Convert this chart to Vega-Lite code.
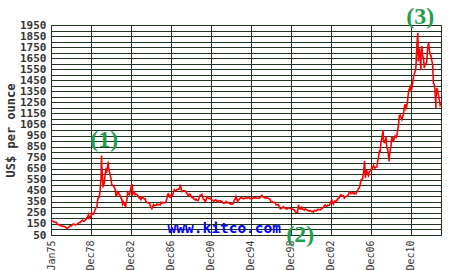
{
  "$schema": "https://vega.github.io/schema/vega-lite/v6.json",
  "width": 390,
  "height": 210,
  "autosize": {"type": "none"},
  "padding": {"left": 51, "top": 25, "right": 9, "bottom": 35},
  "background": "#ffffff",
  "config": {"view": {"stroke": "#1e361e", "strokeWidth": 1}},
  "datasets": {
    "gold": [
      {"d":"1975-01","p":185},{"d":"1975-02","p":180},{"d":"1975-03","p":178},{"d":"1975-04","p":170},{"d":"1975-05","p":167},{"d":"1975-06","p":164},{"d":"1975-07","p":166},{"d":"1975-08","p":161},{"d":"1975-09","p":144},{"d":"1975-10","p":143},{"d":"1975-11","p":142},{"d":"1975-12","p":139},
      {"d":"1976-01","p":131},{"d":"1976-02","p":131},{"d":"1976-03","p":132},{"d":"1976-04","p":128},{"d":"1976-05","p":126},{"d":"1976-06","p":125},{"d":"1976-07","p":118},{"d":"1976-08","p":106},{"d":"1976-09","p":114},{"d":"1976-10","p":117},{"d":"1976-11","p":131},{"d":"1976-12","p":134},
      {"d":"1977-01","p":132},{"d":"1977-02","p":136},{"d":"1977-03","p":148},{"d":"1977-04","p":149},{"d":"1977-05","p":147},{"d":"1977-06","p":141},{"d":"1977-07","p":143},{"d":"1977-08","p":145},{"d":"1977-09","p":150},{"d":"1977-10","p":159},{"d":"1977-11","p":162},{"d":"1977-12","p":161},
      {"d":"1978-01","p":173},{"d":"1978-02","p":179},{"d":"1978-03","p":184},{"d":"1978-04","p":175},{"d":"1978-05","p":177},{"d":"1978-06","p":183},{"d":"1978-07","p":188},{"d":"1978-08","p":206},{"d":"1978-09","p":212},{"d":"1978-10","p":235},{"d":"1978-11","p":200},{"d":"1978-12","p":207},
      {"d":"1979-01","p":227},{"d":"1979-02","p":248},{"d":"1979-03","p":242},{"d":"1979-04","p":239},{"d":"1979-05","p":257},{"d":"1979-06","p":279},{"d":"1979-07","p":295},{"d":"1979-08","p":301},{"d":"1979-09","p":370},{"d":"1979-10","p":392},{"d":"1979-11","p":392},{"d":"1979-12","p":456},
      {"d":"1980-01","p":560},{"d":"1980-01-21","p":770},{"d":"1980-02","p":670},{"d":"1980-03","p":560},{"d":"1980-03-18","p":480},{"d":"1980-04","p":515},{"d":"1980-05","p":514},{"d":"1980-06","p":600},{"d":"1980-07","p":644},{"d":"1980-08","p":627},{"d":"1980-09","p":674},{"d":"1980-09-22","p":715},{"d":"1980-10","p":661},{"d":"1980-11","p":623},{"d":"1980-12","p":595},
      {"d":"1981-01","p":557},{"d":"1981-02","p":500},{"d":"1981-03","p":499},{"d":"1981-04","p":495},{"d":"1981-05","p":480},{"d":"1981-06","p":461},{"d":"1981-07","p":409},{"d":"1981-08","p":410},{"d":"1981-09","p":443},{"d":"1981-10","p":437},{"d":"1981-11","p":413},{"d":"1981-12","p":410},
      {"d":"1982-01","p":384},{"d":"1982-02","p":374},{"d":"1982-03","p":330},{"d":"1982-04","p":350},{"d":"1982-05","p":334},{"d":"1982-06","p":315},{"d":"1982-06-21","p":300},{"d":"1982-07","p":339},{"d":"1982-08","p":364},{"d":"1982-09","p":435},{"d":"1982-10","p":422},{"d":"1982-11","p":414},{"d":"1982-12","p":444},
      {"d":"1983-01","p":481},{"d":"1983-02-15","p":510},{"d":"1983-03","p":419},{"d":"1983-04","p":432},{"d":"1983-05","p":437},{"d":"1983-06","p":413},{"d":"1983-07","p":422},{"d":"1983-08","p":416},{"d":"1983-09","p":412},{"d":"1983-10","p":394},{"d":"1983-11","p":382},{"d":"1983-12","p":388},
      {"d":"1984-01","p":370},{"d":"1984-02","p":386},{"d":"1984-03","p":394},{"d":"1984-04","p":381},{"d":"1984-05","p":377},{"d":"1984-06","p":377},{"d":"1984-07","p":348},{"d":"1984-08","p":348},{"d":"1984-09","p":341},{"d":"1984-10","p":340},{"d":"1984-11","p":341},{"d":"1984-12","p":320},
      {"d":"1985-01","p":303},{"d":"1985-02","p":288},{"d":"1985-03","p":304},{"d":"1985-04","p":325},{"d":"1985-05","p":316},{"d":"1985-06","p":317},{"d":"1985-07","p":317},{"d":"1985-08","p":330},{"d":"1985-09","p":323},{"d":"1985-10","p":325},{"d":"1985-11","p":325},{"d":"1985-12","p":322},
      {"d":"1986-01","p":345},{"d":"1986-02","p":339},{"d":"1986-03","p":346},{"d":"1986-04","p":340},{"d":"1986-05","p":342},{"d":"1986-06","p":343},{"d":"1986-07","p":348},{"d":"1986-08","p":376},{"d":"1986-09","p":418},{"d":"1986-10","p":423},{"d":"1986-11","p":398},{"d":"1986-12","p":390},
      {"d":"1987-01","p":408},{"d":"1987-02","p":401},{"d":"1987-03","p":408},{"d":"1987-04","p":438},{"d":"1987-05","p":460},{"d":"1987-06","p":450},{"d":"1987-07","p":450},{"d":"1987-08","p":461},{"d":"1987-09","p":460},{"d":"1987-10","p":465},{"d":"1987-11","p":467},{"d":"1987-12","p":495},
      {"d":"1988-01","p":477},{"d":"1988-02","p":442},{"d":"1988-03","p":443},{"d":"1988-04","p":452},{"d":"1988-05","p":451},{"d":"1988-06","p":451},{"d":"1988-07","p":437},{"d":"1988-08","p":431},{"d":"1988-09","p":413},{"d":"1988-10","p":406},{"d":"1988-11","p":420},{"d":"1988-12","p":419},
      {"d":"1989-01","p":404},{"d":"1989-02","p":388},{"d":"1989-03","p":390},{"d":"1989-04","p":384},{"d":"1989-05","p":371},{"d":"1989-06","p":367},{"d":"1989-07","p":375},{"d":"1989-08","p":365},{"d":"1989-09","p":362},{"d":"1989-10","p":367},{"d":"1989-11","p":394},{"d":"1989-12","p":409},
      {"d":"1990-01","p":410},{"d":"1990-02","p":417},{"d":"1990-03","p":393},{"d":"1990-04","p":374},{"d":"1990-05","p":369},{"d":"1990-06","p":352},{"d":"1990-07","p":362},{"d":"1990-08","p":395},{"d":"1990-09","p":389},{"d":"1990-10","p":381},{"d":"1990-11","p":381},{"d":"1990-12","p":378},
      {"d":"1991-01","p":384},{"d":"1991-02","p":363},{"d":"1991-03","p":364},{"d":"1991-04","p":358},{"d":"1991-05","p":357},{"d":"1991-06","p":367},{"d":"1991-07","p":368},{"d":"1991-08","p":356},{"d":"1991-09","p":349},{"d":"1991-10","p":359},{"d":"1991-11","p":360},{"d":"1991-12","p":361},
      {"d":"1992-01","p":354},{"d":"1992-02","p":354},{"d":"1992-03","p":345},{"d":"1992-04","p":338},{"d":"1992-05","p":337},{"d":"1992-06","p":341},{"d":"1992-07","p":353},{"d":"1992-08","p":340},{"d":"1992-09","p":345},{"d":"1992-10","p":344},{"d":"1992-11","p":335},{"d":"1992-12","p":334},
      {"d":"1993-01","p":329},{"d":"1993-02","p":329},{"d":"1993-03","p":330},{"d":"1993-04","p":342},{"d":"1993-05","p":367},{"d":"1993-06","p":372},{"d":"1993-07","p":400},{"d":"1993-08","p":379},{"d":"1993-09","p":355},{"d":"1993-10","p":364},{"d":"1993-11","p":373},{"d":"1993-12","p":383},
      {"d":"1994-01","p":387},{"d":"1994-02","p":382},{"d":"1994-03","p":384},{"d":"1994-04","p":378},{"d":"1994-05","p":381},{"d":"1994-06","p":385},{"d":"1994-07","p":385},{"d":"1994-08","p":380},{"d":"1994-09","p":391},{"d":"1994-10","p":389},{"d":"1994-11","p":384},{"d":"1994-12","p":379},
      {"d":"1995-01","p":379},{"d":"1995-02","p":377},{"d":"1995-03","p":382},{"d":"1995-04","p":391},{"d":"1995-05","p":385},{"d":"1995-06","p":387},{"d":"1995-07","p":386},{"d":"1995-08","p":383},{"d":"1995-09","p":383},{"d":"1995-10","p":383},{"d":"1995-11","p":386},{"d":"1995-12","p":387},
      {"d":"1996-01","p":400},{"d":"1996-02","p":408},{"d":"1996-03","p":396},{"d":"1996-04","p":393},{"d":"1996-05","p":392},{"d":"1996-06","p":385},{"d":"1996-07","p":383},{"d":"1996-08","p":387},{"d":"1996-09","p":383},{"d":"1996-10","p":381},{"d":"1996-11","p":378},{"d":"1996-12","p":369},
      {"d":"1997-01","p":355},{"d":"1997-02","p":347},{"d":"1997-03","p":352},{"d":"1997-04","p":344},{"d":"1997-05","p":344},{"d":"1997-06","p":341},{"d":"1997-07","p":324},{"d":"1997-08","p":324},{"d":"1997-09","p":323},{"d":"1997-10","p":325},{"d":"1997-11","p":306},{"d":"1997-12","p":289},
      {"d":"1998-01","p":289},{"d":"1998-02","p":297},{"d":"1998-03","p":296},{"d":"1998-04","p":308},{"d":"1998-05","p":299},{"d":"1998-06","p":292},{"d":"1998-07","p":293},{"d":"1998-08","p":284},{"d":"1998-09","p":289},{"d":"1998-10","p":296},{"d":"1998-11","p":294},{"d":"1998-12","p":291},
      {"d":"1999-01","p":287},{"d":"1999-02","p":287},{"d":"1999-03","p":286},{"d":"1999-04","p":282},{"d":"1999-05","p":277},{"d":"1999-06","p":261},{"d":"1999-07","p":256},{"d":"1999-08-25","p":253},{"d":"1999-09","p":265},{"d":"1999-10-05","p":325},{"d":"1999-11","p":293},{"d":"1999-12","p":284},
      {"d":"2000-01","p":284},{"d":"2000-02","p":300},{"d":"2000-03","p":286},{"d":"2000-04","p":280},{"d":"2000-05","p":275},{"d":"2000-06","p":286},{"d":"2000-07","p":282},{"d":"2000-08","p":275},{"d":"2000-09","p":273},{"d":"2000-10","p":270},{"d":"2000-11","p":266},{"d":"2000-12","p":272},
      {"d":"2001-01","p":266},{"d":"2001-02","p":262},{"d":"2001-03","p":263},{"d":"2001-04","p":257},{"d":"2001-05","p":272},{"d":"2001-06","p":270},{"d":"2001-07","p":268},{"d":"2001-08","p":273},{"d":"2001-09","p":283},{"d":"2001-10","p":283},{"d":"2001-11","p":276},{"d":"2001-12","p":276},
      {"d":"2002-01","p":282},{"d":"2002-02","p":296},{"d":"2002-03","p":294},{"d":"2002-04","p":303},{"d":"2002-05","p":314},{"d":"2002-06","p":322},{"d":"2002-07","p":314},{"d":"2002-08","p":310},{"d":"2002-09","p":319},{"d":"2002-10","p":317},{"d":"2002-11","p":319},{"d":"2002-12","p":333},
      {"d":"2003-01","p":357},{"d":"2003-02","p":365},{"d":"2003-03","p":340},{"d":"2003-04","p":329},{"d":"2003-05","p":355},{"d":"2003-06","p":356},{"d":"2003-07","p":351},{"d":"2003-08","p":360},{"d":"2003-09","p":379},{"d":"2003-10","p":379},{"d":"2003-11","p":389},{"d":"2003-12","p":407},
      {"d":"2004-01","p":414},{"d":"2004-02","p":405},{"d":"2004-03","p":406},{"d":"2004-04","p":404},{"d":"2004-05","p":384},{"d":"2004-06","p":392},{"d":"2004-07","p":398},{"d":"2004-08","p":401},{"d":"2004-09","p":406},{"d":"2004-10","p":420},{"d":"2004-11","p":439},{"d":"2004-12","p":442},
      {"d":"2005-01","p":424},{"d":"2005-02","p":424},{"d":"2005-03","p":434},{"d":"2005-04","p":429},{"d":"2005-05","p":422},{"d":"2005-06","p":430},{"d":"2005-07","p":424},{"d":"2005-08","p":438},{"d":"2005-09","p":456},{"d":"2005-10","p":470},{"d":"2005-11","p":476},{"d":"2005-12","p":509},
      {"d":"2006-01","p":549},{"d":"2006-02","p":555},{"d":"2006-03","p":557},{"d":"2006-04","p":610},{"d":"2006-05-12","p":720},{"d":"2006-06-14","p":567},{"d":"2006-07","p":633},{"d":"2006-08","p":632},{"d":"2006-09","p":598},{"d":"2006-10","p":586},{"d":"2006-11","p":628},{"d":"2006-12","p":629},
      {"d":"2007-01","p":631},{"d":"2007-02","p":665},{"d":"2007-03","p":655},{"d":"2007-04","p":679},{"d":"2007-05","p":667},{"d":"2007-06","p":655},{"d":"2007-07","p":665},{"d":"2007-08","p":665},{"d":"2007-09","p":713},{"d":"2007-10","p":754},{"d":"2007-11","p":806},{"d":"2007-12","p":803},
      {"d":"2008-01","p":889},{"d":"2008-02","p":923},{"d":"2008-03-17","p":1000},{"d":"2008-04","p":909},{"d":"2008-05","p":888},{"d":"2008-06","p":889},{"d":"2008-07","p":939},{"d":"2008-08","p":839},{"d":"2008-09","p":829},{"d":"2008-10-24","p":715},{"d":"2008-11","p":760},{"d":"2008-12","p":816},
      {"d":"2009-01","p":858},{"d":"2009-02","p":943},{"d":"2009-03","p":924},{"d":"2009-04","p":890},{"d":"2009-05","p":928},{"d":"2009-06","p":946},{"d":"2009-07","p":934},{"d":"2009-08","p":949},{"d":"2009-09","p":996},{"d":"2009-10","p":1043},{"d":"2009-11","p":1127},{"d":"2009-12","p":1135},
      {"d":"2010-01","p":1118},{"d":"2010-02","p":1095},{"d":"2010-03","p":1114},{"d":"2010-04","p":1149},{"d":"2010-05","p":1205},{"d":"2010-06","p":1233},{"d":"2010-07","p":1193},{"d":"2010-08","p":1215},{"d":"2010-09","p":1271},{"d":"2010-10","p":1343},{"d":"2010-11","p":1370},{"d":"2010-12","p":1391},
      {"d":"2011-01","p":1356},{"d":"2011-02","p":1372},{"d":"2011-03","p":1424},{"d":"2011-04","p":1474},{"d":"2011-05","p":1510},{"d":"2011-06","p":1529},{"d":"2011-07","p":1573},{"d":"2011-08","p":1756},{"d":"2011-09-06","p":1880},{"d":"2011-09-26","p":1620},{"d":"2011-10","p":1665},{"d":"2011-11","p":1739},{"d":"2011-12","p":1652},{"d":"2011-12-29","p":1540},
      {"d":"2012-01","p":1656},{"d":"2012-02","p":1760},{"d":"2012-03","p":1674},{"d":"2012-04","p":1650},{"d":"2012-05","p":1560},{"d":"2012-06","p":1596},{"d":"2012-07","p":1594},{"d":"2012-08","p":1626},{"d":"2012-09","p":1744},{"d":"2012-10-05","p":1790},{"d":"2012-11","p":1722},{"d":"2012-12","p":1685},
      {"d":"2013-01","p":1671},{"d":"2013-02","p":1627},{"d":"2013-03","p":1593},{"d":"2013-04","p":1420},{"d":"2013-05","p":1414},{"d":"2013-06","p":1343},{"d":"2013-06-28","p":1200},{"d":"2013-07","p":1287},{"d":"2013-08","p":1380},{"d":"2013-09","p":1349},{"d":"2013-10","p":1316},{"d":"2013-11","p":1275},{"d":"2013-12","p":1225},{"d":"2013-12-31","p":1240}
    ],
    "notes": [
      {"d":"1980-05","p":914,"t":"(1)"},
      {"d":"1999-12","p":50,"t":"(2)"},
      {"d":"2011-12","p":2018,"t":"(3)"}
    ],
    "site": [
      {"d":"1992-05","p":100,"t":"www.kitco.com"}
    ]
  },
  "encoding": {
    "x": {
      "field": "d", "type": "temporal",
      "scale": {"type": "utc", "domain": [{"year":1975,"month":1,"date":1,"utc":true},{"year":2014,"month":1,"date":1,"utc":true}]},
      "axis": {
        "title": null,
        "values": [
          {"year":1975,"month":1,"date":1,"utc":true},
          {"year":1978,"month":12,"date":20,"utc":true},
          {"year":1982,"month":12,"date":20,"utc":true},
          {"year":1986,"month":12,"date":20,"utc":true},
          {"year":1990,"month":12,"date":20,"utc":true},
          {"year":1994,"month":12,"date":20,"utc":true},
          {"year":1998,"month":12,"date":20,"utc":true},
          {"year":2002,"month":12,"date":20,"utc":true},
          {"year":2006,"month":12,"date":20,"utc":true},
          {"year":2010,"month":12,"date":20,"utc":true}
        ],
        "labelExpr": "utcFormat(datum.value, '%b%y')",
        "labelAngle": 270,
        "labelFont": "DejaVu Sans Mono",
        "labelFontSize": 10,
        "labelColor": "#333333",
        "labelPadding": 5,
        "labelOverlap": false,
        "labelFlush": false,
        "ticks": false,
        "domain": false,
        "grid": true,
        "gridColor": "#1e361e",
        "gridOpacity": 1,
        "gridWidth": 1
      }
    }
  },
  "resolve": {"axis": {"y": "independent"}},
  "layer": [
    {
      "data": {"name": "gold"},
      "mark": {"type": "line", "color": "#ff0000", "strokeWidth": 1.6, "clip": true},
      "encoding": {
        "y": {
          "field": "p", "type": "quantitative",
          "scale": {"domain": [50, 1950], "nice": false, "zero": false},
          "axis": {
            "orient": "left",
            "title": "US$ per ounce",
            "titleFont": "DejaVu Sans Mono",
            "titleFontSize": 12,
            "titleFontWeight": "bold",
            "titleColor": "#333333",
            "titlePadding": 2,
            "values": [50,150,250,350,450,550,650,750,850,950,1050,1150,1250,1350,1450,1550,1650,1750,1850,1950],
            "format": "d",
            "labelFont": "DejaVu Sans Mono",
            "labelFontSize": 11,
            "labelFontWeight": "bold",
            "labelColor": "#333333",
            "labelPadding": 5,
            "labelOverlap": false,
            "labelFlush": false,
            "ticks": false,
            "domain": false,
            "grid": true,
            "gridColor": "#1e361e",
            "gridOpacity": 1,
            "gridWidth": 1
          }
        }
      }
    },
    {
      "data": {"name": "notes"},
      "mark": {"type": "text", "font": "Liberation Serif", "fontWeight": "bold", "fontSize": 24, "color": "#1f9e4e", "align": "center", "baseline": "middle"},
      "encoding": {
        "text": {"field": "t"},
        "y": {
          "field": "p", "type": "quantitative",
          "axis": {
            "orient": "left",
            "title": null,
            "values": [100,200,300,400,500,600,700,800,900,1000,1100,1200,1300,1400,1500,1600,1700,1800,1900],
            "labels": false,
            "ticks": false,
            "domain": false,
            "grid": true,
            "gridColor": "#1e361e",
            "gridOpacity": 1,
            "gridWidth": 1
          }
        }
      }
    },
    {
      "data": {"name": "site"},
      "mark": {"type": "text", "font": "DejaVu Sans Mono", "fontWeight": "bold", "fontSize": 14.5, "color": "#0000ff", "align": "center", "baseline": "middle"},
      "encoding": {
        "text": {"field": "t"},
        "y": {"field": "p", "type": "quantitative", "axis": null}
      }
    }
  ]
}
